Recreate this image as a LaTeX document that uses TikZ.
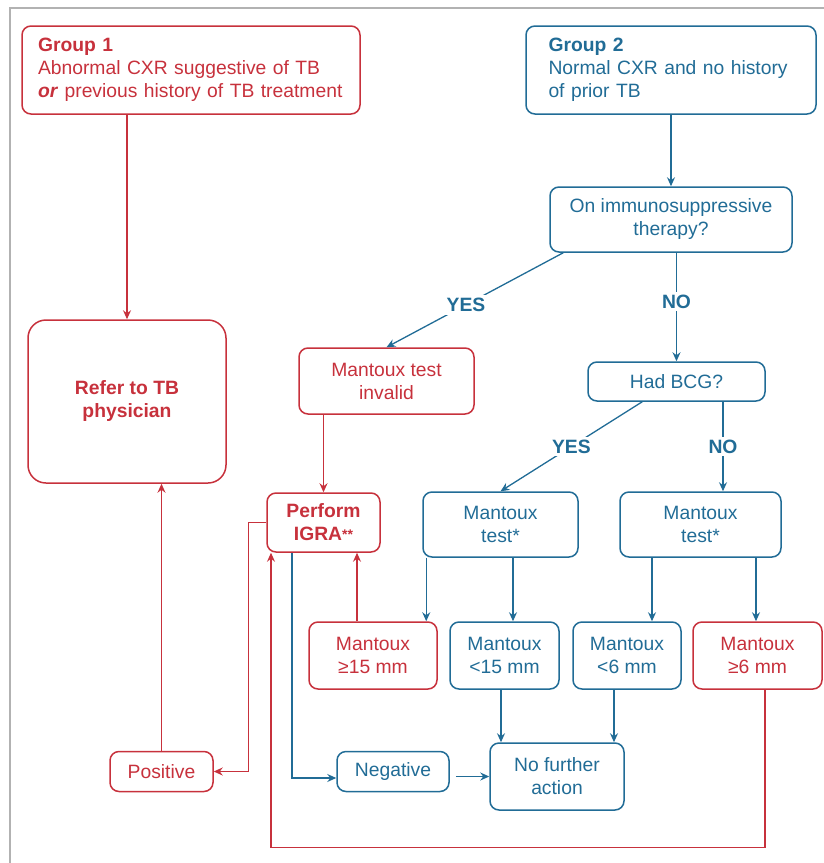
\documentclass[tikz,border=0pt]{standalone}
\usepackage{fontspec}
\setmainfont{Liberation Sans}
\usetikzlibrary{arrows.meta,calc}
\definecolor{tbred}{RGB}{199,49,60}
\definecolor{tbblue}{RGB}{33,108,150}
\begin{document}
\begin{tikzpicture}[x=1pt,y=-1pt,
 font=\fontsize{19.3}{23}\selectfont,
 box/.style={draw,rounded corners=9pt,line width=1.5pt,align=center,inner sep=0pt},
 redbox/.style={box,draw=tbred,text=tbred},
 bluebox/.style={box,draw=tbblue,text=tbblue},
 redline/.style={draw=tbred,line width=1.3pt},
 blueline/.style={draw=tbblue,line width=1.3pt},
 arr/.style={-{Stealth[length=9pt,width=8pt,inset=3pt]}},
 lbl/.style={font=\fontsize{19.3}{23}\selectfont\bfseries,text=tbblue,fill=white,inner sep=3pt}
]
\useasboundingbox (0,0) rectangle (824,863);
\draw[gray!60,line width=2pt] (10,863) -- (10,8) -- (824,8);

% nodes
\node[redbox,minimum width=338pt,minimum height=88pt,text width=306pt,align=left] (g1) at (191,70)
  {{\bfseries Group 1}\\Abnormal CXR suggestive of TB\\\textbf{\textit{or}} previous history of TB treatment};
\node[bluebox,minimum width=290pt,minimum height=88pt,text width=245pt,align=left] (g2) at (671,70)
  {{\bfseries Group 2}\\Normal CXR and no history\\of prior TB};
\node[bluebox,minimum width=242pt,minimum height=65pt] (immuno) at (671,219.5) {On immunosuppressive\\therapy?};
\node[redbox,rounded corners=18pt,minimum width=198pt,minimum height=163pt,font=\fontsize{19.3}{23}\selectfont\bfseries] (refer) at (127,401.5) {Refer to TB\\physician};
\node[redbox,minimum width=175pt,minimum height=66pt] (invalid) at (386.5,381) {Mantoux test\\invalid};
\node[bluebox,minimum width=177pt,minimum height=39pt] (bcg) at (676.5,381.5) {Had BCG?};
\node[redbox,minimum width=113pt,minimum height=59pt,font=\fontsize{19.3}{23}\selectfont\bfseries] (igra) at (323.5,522.5) {Perform\\IGRA\raisebox{1pt}{\fontsize{14}{14}\selectfont **}};
\node[bluebox,minimum width=155pt,minimum height=65pt] (mt1) at (500.5,524.5) {Mantoux\\test*};
\node[bluebox,minimum width=161pt,minimum height=65pt] (mt2) at (700.5,524.5) {Mantoux\\test*};
\node[redbox,minimum width=128pt,minimum height=67pt] (m15ge) at (373,655.5) {Mantoux\\≥15 mm};
\node[bluebox,minimum width=109pt,minimum height=67pt] (m15lt) at (504.5,655.5) {Mantoux\\<15 mm};
\node[bluebox,minimum width=108pt,minimum height=67pt] (m6lt) at (627,655.5) {Mantoux\\<6 mm};
\node[redbox,minimum width=129pt,minimum height=67pt] (m6ge) at (757.5,655.5) {Mantoux\\≥6 mm};
\node[bluebox,minimum width=134pt,minimum height=67pt] (nfa) at (557,776.5) {No further\\action};
\node[bluebox,minimum width=112pt,minimum height=40pt] (neg) at (393,771.5) {Negative};
\node[redbox,minimum width=103pt,minimum height=40pt] (pos) at (161.5,771.5) {Positive};

% connectors
\draw[redline,arr] (refer.north |- g1.south) -- (refer.north);
\draw[blueline,arr] (g2.south) -- (immuno.north);
\coordinate (iy) at ([xshift=14pt]immuno.south west);
\draw[blueline,arr] (iy) -- node[lbl,pos=0.55]{YES} (invalid.north);
\draw[blueline,arr] (bcg.north |- immuno.south) -- node[lbl,pos=0.45]{NO} (bcg.north);
\coordinate (by) at ([xshift=55pt]bcg.south west);
\draw[blueline,arr] (by) -- node[lbl,pos=0.5]{YES} (mt1.north);
\coordinate (bn) at ([xshift=46.5pt]bcg.south);
\draw[blueline,arr] (bn) -- node[lbl]{NO} (bn |- mt2.north);

\coordinate (c1) at ([xshift=4pt]mt1.south west);
\draw[blueline,arr] (c1) -- (c1 |- m15ge.north);
\coordinate (c2) at ([xshift=12.5pt]mt1.south);
\draw[blueline,arr] (c2) -- (c2 |- m15lt.north);
\coordinate (c3) at ([xshift=-48.5pt]mt2.south);
\draw[blueline,arr] (c3) -- (c3 |- m6lt.north);
\coordinate (c4) at ([xshift=55.5pt]mt2.south);
\draw[blueline,arr] (c4) -- (c4 |- m6ge.north);

\coordinate (c5) at ([xshift=-16pt]m15ge.north);
\draw[redline,arr] (c5) -- (c5 |- igra.south);
\draw[redline,arr] (igra.north |- invalid.south) -- (igra.north);

\coordinate (c6) at ([xshift=-3.5pt]m15lt.south);
\draw[blueline,arr] (c6) -- (c6 |- nfa.north);
\coordinate (c7) at ([xshift=-13pt]m6lt.south);
\draw[blueline,arr] (c7) -- (c7 |- nfa.north);

\coordinate (c8) at ([xshift=6pt]neg.east);
\draw[blueline,arr] (c8 |- nfa.west) -- (nfa.west);
\coordinate (c9) at ([xshift=-31.5pt]igra.south);
\coordinate (c10) at ([yshift=-6.5pt]neg.west);
\draw[blueline,arr] (c9) |- (c10);

\draw[redline,arr] (igra.west) -- ++(-18,0) |- (pos.east);
\draw[redline,arr] (pos.north) -- (pos.north |- refer.south);

\coordinate (c12) at ([xshift=7.5pt]m6ge.south);
\coordinate (c13) at ([xshift=-52.5pt]igra.south);
\draw[redline,arr] (c12) -- ++(0,158) -| (c13);
\end{tikzpicture}
\end{document}
